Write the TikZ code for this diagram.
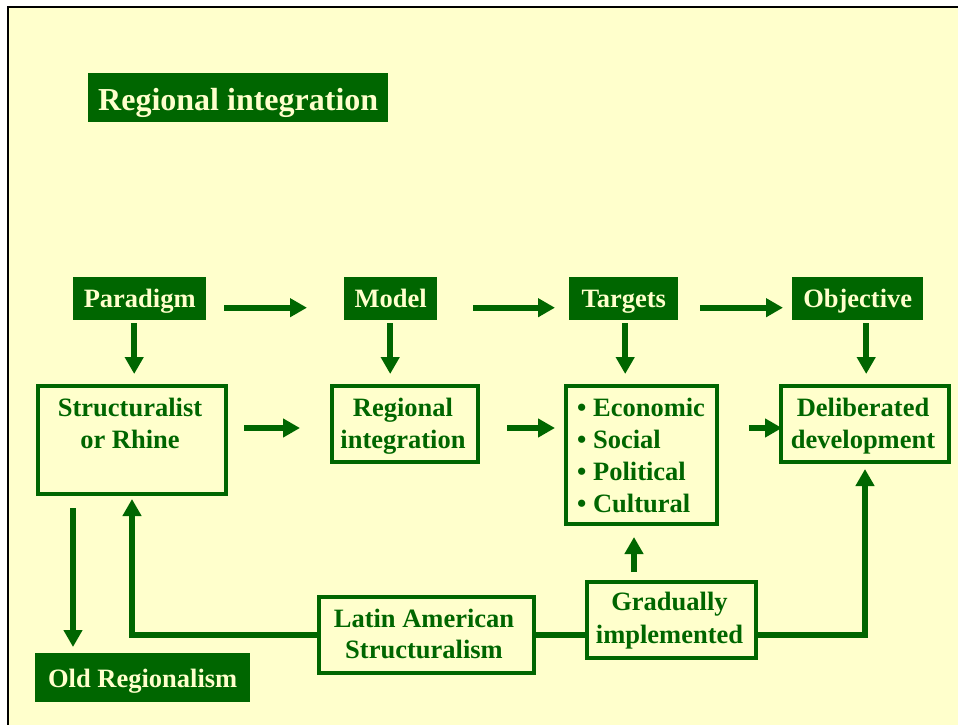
\documentclass[tikz,border=0pt]{standalone}
\usepackage{fontspec}
\setmainfont{Liberation Serif}
\usetikzlibrary{arrows.meta,calc}
\definecolor{dgreen}{RGB}{0,102,0}
\definecolor{paper}{RGB}{255,255,204}
\begin{document}
\begin{tikzpicture}[x=1pt,y=-1pt,
  lblfont/.style={font=\bfseries\fontsize{26.5}{32}\selectfont},
  tag/.style={lblfont, fill=dgreen, text=paper, inner sep=0pt, anchor=north west,
    text height=20pt, text depth=3pt},
  outline/.style={draw=dgreen, line width=4pt, inner sep=0pt, anchor=north west},
  txt/.style={lblfont, text=dgreen, inner sep=0pt, anchor=base},
  bullet/.style={lblfont, text=dgreen, inner sep=0pt, anchor=base west},
  link/.style={draw=dgreen, line width=6pt},
  arr/.style={link, -{Triangle[width=18pt,length=17pt]}}
]
% page and frame
\useasboundingbox (0,0) rectangle (958,725);
\fill[white] (0,0) rectangle (958,725);
\fill[paper] (8,7) rectangle (958,725);
\draw[black, line width=2pt] (8,725) -- (8,7) -- (958,7);

% title
\node[tag, minimum width=300pt, minimum height=49pt, text height=27pt, text depth=2pt,
  font=\bfseries\fontsize{32}{38}\selectfont] (title) at (88,73) {Regional integration};

% top row of headings
\node[tag, minimum width=133pt, minimum height=43pt] (para) at (73,277) {Paradigm};
\node[tag, minimum width=93pt, minimum height=43pt] (model) at (344,277) {Model};
\node[tag, minimum width=109pt, minimum height=43pt] (targ) at (569,277) {Targets};
\node[tag, minimum width=131pt, minimum height=43pt] (obj) at (792,277) {Objective};

% second row of boxes
\node[outline, minimum width=188pt, minimum height=108pt] (struct) at (36,384) {};
\node[txt] (structA) at (130,416) {Structuralist};
\node[txt] (structB) at (130,448) {or Rhine};

\node[outline, minimum width=146pt, minimum height=76pt] (regio) at (330,384) {};
\node[txt] (regioA) at (403,416) {Regional};
\node[txt] (regioB) at (403,448) {integration};

\node[outline, minimum width=151pt, minimum height=138pt] (list) at (564,384) {};
\node[bullet] (listA) at (577,416) {• Economic};
\node[bullet] (listB) at (577,448) {• Social};
\node[bullet] (listC) at (577,480) {• Political};
\node[bullet] (listD) at (577,512) {• Cultural};

\node[outline, minimum width=168pt, minimum height=76pt] (delib) at (779,384) {};
\node[txt] (delibA) at (863,416) {Deliberated};
\node[txt] (delibB) at (863,448) {development};

% bottom row
\node[tag, minimum width=215pt, minimum height=49pt, text height=22pt, text depth=3pt] (old) at (35,653) {Old Regionalism};

\node[outline, minimum width=215pt, minimum height=76pt] (latin) at (317,595) {};
\node[txt] (latinA) at (424,627) {Latin American};
\node[txt] (latinB) at (424,658) {Structuralism};

\node[outline, minimum width=169pt, minimum height=76pt] (grad) at (585,580) {};
\node[txt] (gradA) at (669.5,610) {Gradually};
\node[txt] (gradB) at (669.5,643) {implemented};

% arrows along the top row
\draw[arr] ($(para.east)+(18,9)$) -- ($(model.west)+(-37,9)$);
\draw[arr] ($(model.east)+(36,9)$) -- ($(targ.west)+(-14,9)$);
\draw[arr] ($(targ.east)+(22,9)$) -- ($(obj.west)+(-9,9)$);

% arrows from headings down to boxes
\draw[arr] ($(para.south)+(-5.5,3)$) -- ($(struct.north -| para.south)+(-5.5,-10)$);
\draw[arr] ($(model.south)+(-0.5,3)$) -- ($(regio.north -| model.south)+(-0.5,-10)$);
\draw[arr] ($(targ.south)+(1.5,3)$) -- ($(list.north -| targ.south)+(1.5,-10)$);
\draw[arr] ($(obj.south)+(8.5,3)$) -- ($(delib.north -| obj.south)+(8.5,-10)$);

% arrows along the second row
\coordinate (row) at (0,428);
\draw[arr] ($(struct.east |- row)+(16,0)$) -- ($(regio.west |- row)+(-30,0)$);
\draw[arr] ($(regio.east |- row)+(27,0)$) -- ($(list.west |- row)+(-9,0)$);
\draw[arr] ($(list.east |- row)+(30,0)$) -- ($(delib.west |- row)+(3,0)$);

% old regionalism
\draw[arr] ($(struct.south west)+(37,12)$) -- ($(old.north west)+(38,-6)$);

% bottom connections
\draw[arr] (latin.west) -| ($(struct.south)+(0,3)$);
\draw[link] (latin.east) -- (latin.east -| grad.west);
\draw[arr] (grad.east |- latin.east) -| ($(delib.south)+(0,5)$);
\draw[arr] ($(grad.north)+(-37.5,-8)$) -- ($(list.south)+(-7.5,11)$);
\end{tikzpicture}
\end{document}
